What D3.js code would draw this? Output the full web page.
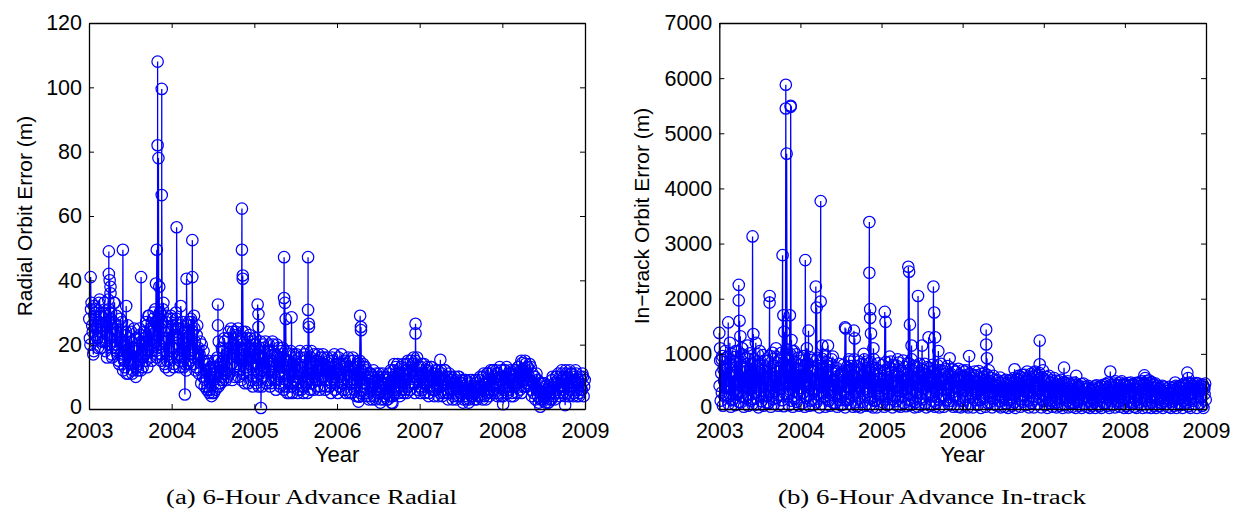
<!DOCTYPE html>
<html>
<head>
<meta charset="utf-8">
<script src="https://cdn.jsdelivr.net/npm/d3@7"></script>
<style>
body { margin: 0; background: #fff; }
svg { display: block; }
</style>
</head>
<body>
<svg id="chart" width="1235" height="514"></svg>
<script>
// shared x ticks
var yearTicks = [2003, 2004, 2005, 2006, 2007, 2008, 2009];
var radialTicks = [0, 20, 40, 60, 80, 100, 120];
var intrackTicks = [0, 1000, 2000, 3000, 4000, 5000, 6000, 7000];

// radial orbit error (m): one row per month, Jan 2003 .. Dec 2008, twelve samples per month
var radialMonthly = [
	[28, 22, 20, 31, 33, 26, 24, 17, 18, 29, 30, 23], [31, 25, 22, 19, 27, 33, 34, 24, 19, 29, 26, 21],
	[25, 30, 33, 21, 18, 27, 29, 16, 23, 34, 31, 20], [22, 28, 30, 17, 16, 25, 27, 33, 33, 19, 20, 29],
	[18, 24, 26, 15, 14, 22, 28, 17, 21, 27, 16, 12], [20, 15, 13, 23, 24, 11, 17, 26, 11, 19, 22, 14],
	[15, 24, 21, 11, 12, 19, 25, 14, 18, 10, 13, 22], [19, 12, 14, 25, 23, 17, 12, 21, 20, 13, 16, 24],
	[22, 17, 15, 27, 26, 13, 18, 29, 29, 16, 20, 25], [24, 15, 18, 28, 30, 20, 21, 31, 27, 17, 16, 26],
	[28, 19, 20, 30, 25, 15, 17, 27, 31, 21, 22, 14], [21, 13, 27, 29, 15, 22, 24, 12, 18, 28, 29, 16],
	[19, 28, 26, 13, 14, 24, 23, 30, 28, 16, 17, 25], [22, 13, 15, 26, 25, 16, 18, 27, 13, 21, 24, 14],
	[20, 12, 26, 22, 14, 27, 22, 15, 17, 28, 27, 18], [24, 14, 16, 25, 21, 12, 13, 23, 26, 17, 19, 11],
	[17, 21, 12, 8, 20, 15, 10, 18, 15, 7, 9, 14], [12, 6, 7, 15, 14, 5, 6, 13, 10, 4, 5, 11],
	[9, 5, 13, 15, 6, 10, 11, 16, 15, 7, 8, 13], [14, 8, 10, 19, 18, 9, 12, 22, 21, 11, 9, 17],
	[17, 10, 22, 24, 11, 16, 19, 25, 14, 9, 24, 18], [20, 10, 13, 24, 23, 14, 16, 25, 10, 19, 21, 12],
	[15, 9, 22, 24, 11, 17, 18, 8, 24, 20, 13, 22], [19, 8, 12, 23, 22, 14, 9, 18, 16, 7, 20, 21],
	[14, 22, 20, 8, 9, 16, 17, 7, 11, 19, 21, 12], [16, 7, 10, 20, 19, 12, 13, 21, 8, 15, 18, 9],
	[12, 20, 18, 7, 8, 14, 15, 21, 20, 9, 10, 16], [17, 6, 9, 20, 14, 11, 19, 8, 7, 16, 13, 18],
	[11, 19, 16, 6, 7, 13, 18, 9, 13, 5, 9, 17], [15, 5, 8, 18, 12, 7, 5, 14, 17, 9, 10, 16],
	[9, 17, 14, 5, 6, 11, 12, 18, 16, 6, 7, 13], [13, 5, 7, 17, 16, 8, 10, 18, 5, 12, 14, 9],
	[11, 6, 16, 18, 8, 13, 14, 6, 17, 10, 9, 15], [15, 7, 9, 17, 13, 6, 7, 14, 16, 10, 12, 17],
	[10, 16, 14, 6, 7, 12, 16, 9, 11, 15, 13, 7], [13, 5, 8, 16, 15, 9, 10, 17, 6, 12, 14, 8],
	[12, 5, 16, 14, 7, 10, 11, 17, 14, 8, 6, 13], [9, 15, 14, 5, 6, 11, 13, 16, 10, 5, 15, 12],
	[13, 5, 8, 16, 15, 9, 6, 13, 11, 4, 9, 14], [10, 4, 14, 15, 5, 9, 12, 6, 8, 14, 13, 7],
	[8, 13, 12, 4, 5, 9, 10, 3, 4, 11, 11, 6], [7, 3, 10, 12, 4, 8, 9, 3, 11, 6, 5, 10],
	[6, 11, 9, 2, 3, 7, 8, 11, 10, 3, 4, 8], [5, 10, 9, 3, 3, 8, 11, 4, 7, 12, 4, 9],
	[8, 4, 12, 14, 5, 10, 13, 6, 9, 14, 11, 5], [11, 4, 7, 13, 13, 6, 9, 14, 5, 11, 12, 6],
	[9, 5, 14, 15, 7, 11, 12, 6, 15, 10, 8, 14], [12, 16, 8, 5, 15, 11, 10, 16, 6, 9, 13, 7],
	[10, 5, 13, 14, 6, 9, 11, 14, 8, 5, 12, 10], [8, 13, 12, 4, 5, 9, 10, 13, 13, 6, 7, 11],
	[9, 4, 6, 12, 11, 7, 8, 12, 4, 9, 10, 5], [7, 12, 11, 4, 5, 8, 9, 12, 12, 5, 6, 10],
	[8, 3, 5, 11, 10, 6, 6, 10, 9, 3, 4, 8], [6, 10, 9, 3, 4, 7, 7, 10, 10, 4, 5, 8],
	[5, 9, 8, 2, 3, 6, 6, 9, 9, 3, 4, 7], [6, 2, 3, 9, 8, 4, 5, 9, 4, 7, 7, 3],
	[5, 9, 8, 3, 4, 7, 9, 4, 6, 10, 7, 4], [7, 3, 10, 11, 4, 8, 8, 3, 6, 11, 11, 5],
	[9, 4, 6, 12, 11, 5, 7, 12, 12, 6, 5, 10], [8, 12, 11, 4, 5, 9, 10, 13, 7, 4, 12, 9],
	[10, 4, 6, 12, 12, 7, 8, 13, 5, 10, 11, 6], [7, 12, 11, 4, 5, 10, 9, 4, 12, 7, 8, 12],
	[11, 5, 8, 13, 13, 7, 6, 12, 10, 5, 12, 9], [12, 7, 9, 15, 14, 8, 7, 13, 13, 8, 10, 14],
	[9, 13, 6, 4, 11, 8, 5, 10, 10, 3, 7, 11], [6, 9, 4, 2, 8, 5, 3, 8, 7, 3, 5, 8],
	[4, 8, 7, 2, 3, 6, 6, 2, 2, 7, 5, 3], [6, 3, 9, 10, 4, 7, 8, 3, 5, 10, 10, 6],
	[8, 11, 5, 4, 10, 7, 7, 12, 11, 5, 6, 10], [9, 4, 12, 11, 5, 8, 10, 4, 7, 12, 11, 6],
	[7, 11, 10, 4, 5, 8, 9, 12, 11, 4, 6, 9], [8, 4, 5, 10, 9, 6, 6, 11, 10, 4, 7, 9]
];

// radial outliers [decimal year, m]
var radialPeaks = [
	[2003.02, 41], [2003.06, 32], [2003.24, 49], [2003.24, 42], [2003.25, 40], [2003.26, 38],
	[2003.26, 36], [2003.41, 49.5], [2003.45, 32], [2003.63, 41], [2003.81, 39], [2003.82, 49.5],
	[2003.83, 108], [2003.83, 82], [2003.84, 78], [2003.85, 38], [2003.88, 99.5], [2003.88, 66.5],
	[2003.9, 33], [2004.06, 56.5], [2004.11, 32], [2004.16, 4.5], [2004.18, 40.5], [2004.25, 52.5],
	[2004.25, 41], [2004.27, 29], [2004.56, 32.5], [2004.56, 26], [2004.57, 21], [2004.85, 62.3],
	[2004.85, 49.5], [2004.86, 41.5], [2004.86, 40.5], [2005.04, 32.5], [2005.05, 29.5], [2005.05, 25.5],
	[2005.08, 0.3], [2005.36, 47.2], [2005.36, 34.5], [2005.37, 33], [2005.38, 28], [2005.45, 28.5],
	[2005.65, 47.2], [2005.65, 30.8], [2005.66, 26.5], [2005.66, 25.5], [2006.26, 2.3], [2006.27, 3.8],
	[2006.28, 29], [2006.29, 25.5], [2006.29, 24.5], [2006.66, 2], [2006.67, 1.8], [2006.95, 26.5],
	[2006.95, 23.5], [2007.25, 15.3], [2008.01, 1.5], [2008.23, 15], [2008.24, 14.3], [2008.46, 0.7],
	[2008.76, 1.2]
];

// in-track orbit error (m): same layout as radialMonthly
var intrackMonthly = [
	[420, 880, 150, 650, 300, 960, 60, 720, 510, 230, 1050, 380], [250, 720, 940, 510, 90, 830, 380, 620, 40, 1000, 160, 470],
	[610, 180, 940, 340, 70, 760, 880, 260, 520, 1040, 130, 430], [300, 850, 120, 560, 990, 220, 680, 40, 760, 410, 930, 190],
	[740, 260, 480, 60, 910, 350, 1010, 150, 600, 820, 90, 530], [180, 620, 900, 290, 540, 80, 780, 410, 990, 30, 660, 240],
	[820, 330, 140, 700, 420, 980, 60, 560, 880, 230, 750, 120], [240, 590, 870, 110, 460, 730, 960, 40, 640, 310, 1020, 180],
	[510, 90, 780, 320, 950, 200, 680, 420, 60, 880, 260, 740], [690, 370, 1020, 160, 560, 840, 50, 930, 280, 760, 450, 1080],
	[280, 910, 450, 70, 760, 350, 990, 150, 620, 1050, 40, 540], [620, 190, 850, 410, 990, 130, 720, 300, 930, 60, 560, 800],
	[380, 720, 100, 880, 290, 560, 960, 40, 650, 200, 820, 470], [830, 240, 600, 60, 940, 430, 150, 710, 350, 890, 70, 520],
	[170, 690, 350, 870, 120, 520, 930, 260, 780, 30, 610, 420], [640, 90, 910, 300, 760, 220, 560, 980, 40, 450, 850, 180],
	[330, 780, 150, 580, 60, 820, 440, 900, 250, 690, 110, 520], [510, 110, 690, 260, 740, 40, 600, 380, 820, 160, 470, 70],
	[220, 620, 80, 480, 800, 300, 700, 30, 550, 160, 760, 400], [700, 170, 540, 860, 90, 390, 780, 250, 620, 40, 480, 900],
	[120, 580, 300, 780, 50, 650, 420, 860, 190, 710, 30, 500], [460, 820, 130, 600, 280, 900, 60, 740, 370, 530, 860, 210],
	[310, 690, 60, 540, 850, 200, 760, 420, 30, 620, 900, 150], [740, 150, 480, 30, 620, 380, 830, 250, 680, 90, 560, 410],
	[260, 800, 120, 560, 40, 700, 380, 850, 180, 630, 70, 470], [580, 90, 750, 320, 860, 180, 660, 30, 500, 800, 240, 420],
	[140, 620, 400, 780, 60, 500, 840, 230, 690, 40, 560, 330], [690, 230, 880, 110, 540, 350, 760, 50, 620, 280, 830, 170],
	[410, 820, 70, 610, 250, 900, 140, 700, 360, 780, 30, 530], [120, 540, 760, 290, 40, 660, 430, 820, 200, 600, 70, 720],
	[570, 180, 700, 380, 820, 100, 640, 30, 500, 760, 260, 450], [300, 740, 60, 520, 230, 680, 800, 140, 600, 380, 40, 710],
	[620, 110, 460, 790, 180, 550, 30, 700, 340, 820, 250, 500], [240, 690, 40, 560, 350, 720, 160, 640, 450, 780, 90, 600],
	[480, 150, 640, 80, 590, 300, 720, 40, 530, 220, 680, 380], [680, 260, 520, 40, 730, 190, 620, 360, 30, 580, 440, 700],
	[150, 600, 340, 680, 60, 450, 700, 220, 560, 30, 630, 390], [530, 90, 640, 220, 560, 330, 30, 610, 400, 680, 160, 480],
	[280, 610, 70, 480, 690, 160, 550, 370, 20, 640, 230, 500], [590, 200, 650, 380, 40, 520, 270, 620, 110, 460, 700, 300],
	[120, 480, 300, 560, 30, 410, 600, 190, 520, 80, 440, 350], [420, 60, 520, 250, 480, 140, 570, 30, 390, 200, 500, 310],
	[210, 450, 40, 380, 530, 100, 470, 280, 20, 510, 160, 420], [460, 170, 520, 60, 410, 280, 560, 120, 490, 20, 350, 540],
	[90, 540, 320, 600, 180, 470, 40, 580, 250, 620, 130, 410], [560, 240, 620, 70, 500, 360, 680, 150, 440, 30, 590, 300],
	[300, 640, 110, 540, 230, 590, 30, 660, 410, 180, 620, 480], [520, 90, 600, 320, 650, 180, 420, 30, 580, 260, 700, 140],
	[240, 540, 70, 460, 330, 580, 20, 500, 160, 600, 390, 110], [480, 150, 520, 40, 420, 260, 560, 100, 340, 510, 30, 440],
	[120, 440, 280, 500, 60, 380, 530, 200, 460, 20, 350, 490], [390, 80, 470, 210, 430, 150, 500, 30, 320, 460, 110, 250],
	[200, 420, 40, 360, 460, 110, 480, 280, 20, 440, 170, 390], [380, 130, 420, 60, 330, 250, 450, 20, 400, 180, 460, 90],
	[90, 360, 220, 400, 40, 300, 420, 150, 380, 20, 330, 260], [340, 60, 390, 180, 350, 120, 410, 20, 300, 430, 80, 240],
	[150, 380, 50, 330, 420, 220, 20, 400, 270, 440, 100, 350], [400, 110, 450, 260, 60, 370, 480, 190, 20, 430, 300, 140],
	[230, 430, 80, 390, 180, 460, 30, 500, 320, 120, 440, 280], [420, 140, 480, 40, 360, 270, 500, 90, 430, 200, 20, 460],
	[180, 440, 60, 400, 250, 470, 20, 430, 310, 120, 480, 350], [410, 100, 450, 200, 40, 380, 470, 150, 20, 420, 290, 480],
	[260, 480, 120, 420, 70, 350, 500, 20, 440, 190, 470, 310], [450, 150, 500, 30, 420, 280, 520, 90, 470, 230, 20, 490],
	[120, 400, 230, 440, 60, 330, 460, 20, 380, 170, 420, 290], [360, 50, 390, 180, 330, 110, 420, 20, 300, 400, 140, 250],
	[90, 330, 200, 370, 40, 270, 400, 130, 350, 20, 300, 220], [340, 140, 390, 60, 300, 220, 420, 20, 360, 180, 410, 100],
	[200, 410, 70, 380, 260, 440, 20, 430, 150, 460, 310, 90], [430, 120, 460, 240, 50, 390, 480, 170, 20, 450, 300, 410],
	[150, 420, 280, 450, 90, 360, 470, 20, 400, 210, 460, 330], [380, 100, 430, 210, 350, 60, 440, 20, 400, 270, 460, 170]
];

// in-track outliers [decimal year, m]
var intrackPeaks = [
	[2003.0, 1380], [2003.01, 1100], [2003.03, 900], [2003.11, 1570], [2003.13, 1200], [2003.2, 1050],
	[2003.24, 2250], [2003.24, 1970], [2003.25, 1600], [2003.26, 1320], [2003.28, 1100], [2003.35, 1150],
	[2003.41, 3130], [2003.42, 1360], [2003.45, 1200], [2003.5, 1050], [2003.62, 2050], [2003.62, 1930],
	[2003.7, 1100], [2003.78, 2790], [2003.79, 1700], [2003.8, 1400], [2003.82, 5880], [2003.82, 5450],
	[2003.83, 4630], [2003.87, 1700], [2003.88, 5500], [2003.88, 5480], [2003.89, 1250], [2003.92, 1050],
	[2004.06, 2700], [2004.08, 1100], [2004.1, 1420], [2004.19, 2220], [2004.2, 1840], [2004.25, 3770],
	[2004.25, 1950], [2004.27, 1150], [2004.34, 1150], [2004.4, 950], [2004.55, 1480], [2004.56, 1460],
	[2004.6, 900], [2004.66, 1420], [2004.67, 1280], [2004.78, 1000], [2004.85, 3390], [2004.85, 2470],
	[2004.86, 1810], [2004.86, 1650], [2004.87, 1370], [2004.9, 1100], [2005.04, 1760], [2005.05, 1580],
	[2005.1, 950], [2005.2, 900], [2005.33, 2580], [2005.34, 2490], [2005.35, 1530], [2005.37, 1150],
	[2005.45, 2050], [2005.5, 1150], [2005.58, 1300], [2005.64, 2220], [2005.65, 1750], [2005.66, 1300],
	[2005.7, 1050], [2005.84, 920], [2006.08, 960], [2006.29, 1440], [2006.29, 1170], [2006.3, 920],
	[2006.64, 720], [2006.89, 680], [2006.95, 1240], [2006.95, 810], [2007.25, 750], [2007.4, 600],
	[2007.82, 680], [2008.24, 610], [2008.25, 560], [2008.62, 480], [2008.77, 660], [2008.78, 560],
	[2008.98, 370]
];

var svg = d3.select('#chart');
var sansFont = '"Liberation Sans", Arial, Helvetica, sans-serif';
var serifFont = '"Liberation Serif", "DejaVu Serif", serif';

// monthly rows + outliers -> one time-sorted series
function buildSeries(monthly, peaks) {
	var pts = [];
	monthly.forEach(function(row, m) {
		row.forEach(function(v, k) {
			pts.push({ t: 2003 + (m + (k + 0.5) / row.length) / 12, v: v });
		});
	});
	peaks.forEach(function(p) { pts.push({ t: p[0], v: p[1] }); });
	pts.sort(function(a, b) { return a.t - b.t; });
	return pts;
}

function drawPanel(cfg) {
	var x = d3.scaleLinear().domain([2003, 2009]).range([cfg.left, cfg.right]);
	var y = d3.scaleLinear().domain([0, cfg.yMax]).range([cfg.bottom, cfg.top]);
	var g = svg.append('g');
	var data = buildSeries(cfg.monthly, cfg.peaks);

	// data line + circle markers
	g.append('path')
			.datum(data)
			.attr('fill', 'none')
			.attr('stroke', '#0000ff')
			.attr('stroke-width', 1.3)
			.attr('d', d3.line().x(function(d) { return x(d.t); }).y(function(d) { return y(d.v); }));

	g.selectAll('circle.mk').data(data).enter().append('circle')
			.attr('class', 'mk')
			.attr('cx', function(d) { return x(d.t); })
			.attr('cy', function(d) { return y(d.v); })
			.attr('r', 5.7)
			.attr('fill', 'none')
			.attr('stroke', '#0000ff')
			.attr('stroke-width', 1.25);

	// box with inward ticks on all sides
	var ax = [
		{ a: d3.axisBottom(x).tickValues(yearTicks).tickFormat(d3.format('d')).tickPadding(14), tr: [0, cfg.bottom] },
		{ a: d3.axisTop(x).tickValues(yearTicks).tickFormat(''), tr: [0, cfg.top] },
		{ a: d3.axisLeft(y).tickValues(cfg.ticks).tickFormat(d3.format('d')).tickPadding(7), tr: [cfg.left, 0] },
		{ a: d3.axisRight(y).tickValues(cfg.ticks).tickFormat(''), tr: [cfg.right, 0] }
	];
	ax.forEach(function(o, i) {
		var ag = g.append('g')
				.attr('transform', 'translate(' + o.tr[0] + ',' + o.tr[1] + ')')
				.call(o.a.tickSizeInner(-5).tickSizeOuter(0));
		ag.select('.domain').attr('stroke', '#000').attr('stroke-width', 1.3);
		ag.selectAll('.tick line').attr('stroke', '#000').attr('stroke-width', 1);
		ag.selectAll('.tick text')
				.attr('fill', '#000')
				.style('font-family', sansFont)
				.style('font-size', '21.5px');
		// lift the bottom "0" a touch so it clears the first year label
		if (i === 2) ag.selectAll('.tick text').filter(function(d) { return d === 0; }).attr('dy', '0.2em');
	});

	// axis titles
	g.append('text')
			.attr('x', (cfg.left + cfg.right) / 2)
			.attr('y', 462)
			.attr('text-anchor', 'middle')
			.style('font-family', sansFont)
			.style('font-size', '22px')
			.text('Year');

	g.append('text')
			.attr('transform', 'translate(' + cfg.yLabelX + ',216) rotate(-90)')
			.attr('text-anchor', 'middle')
			.style('font-family', sansFont)
			.style('font-size', '21px')
			.text(cfg.yLabel);

	// subfigure caption
	g.append('text')
			.attr('x', cfg.capX)
			.attr('y', 504)
			.attr('text-anchor', 'middle')
			.attr('textLength', cfg.capW)
			.attr('lengthAdjust', 'spacingAndGlyphs')
			.style('font-family', serifFont)
			.style('font-size', '20px')
			.text(cfg.caption);
}

drawPanel({
	left: 89, right: 585, top: 23, bottom: 409,
	yMax: 120, ticks: radialTicks,
	monthly: radialMonthly, peaks: radialPeaks,
	yLabel: 'Radial Orbit Error (m)', yLabelX: 31.5,
	caption: '(a) 6-Hour Advance Radial', capX: 311.5, capW: 291
});

drawPanel({
	left: 719.3, right: 1206, top: 23, bottom: 409,
	yMax: 7000, ticks: intrackTicks,
	monthly: intrackMonthly, peaks: intrackPeaks,
	yLabel: 'In\u2212track Orbit Error (m)', yLabelX: 649,
	caption: '(b) 6-Hour Advance In-track', capX: 932, capW: 308
});
</script>
</body>
</html>
